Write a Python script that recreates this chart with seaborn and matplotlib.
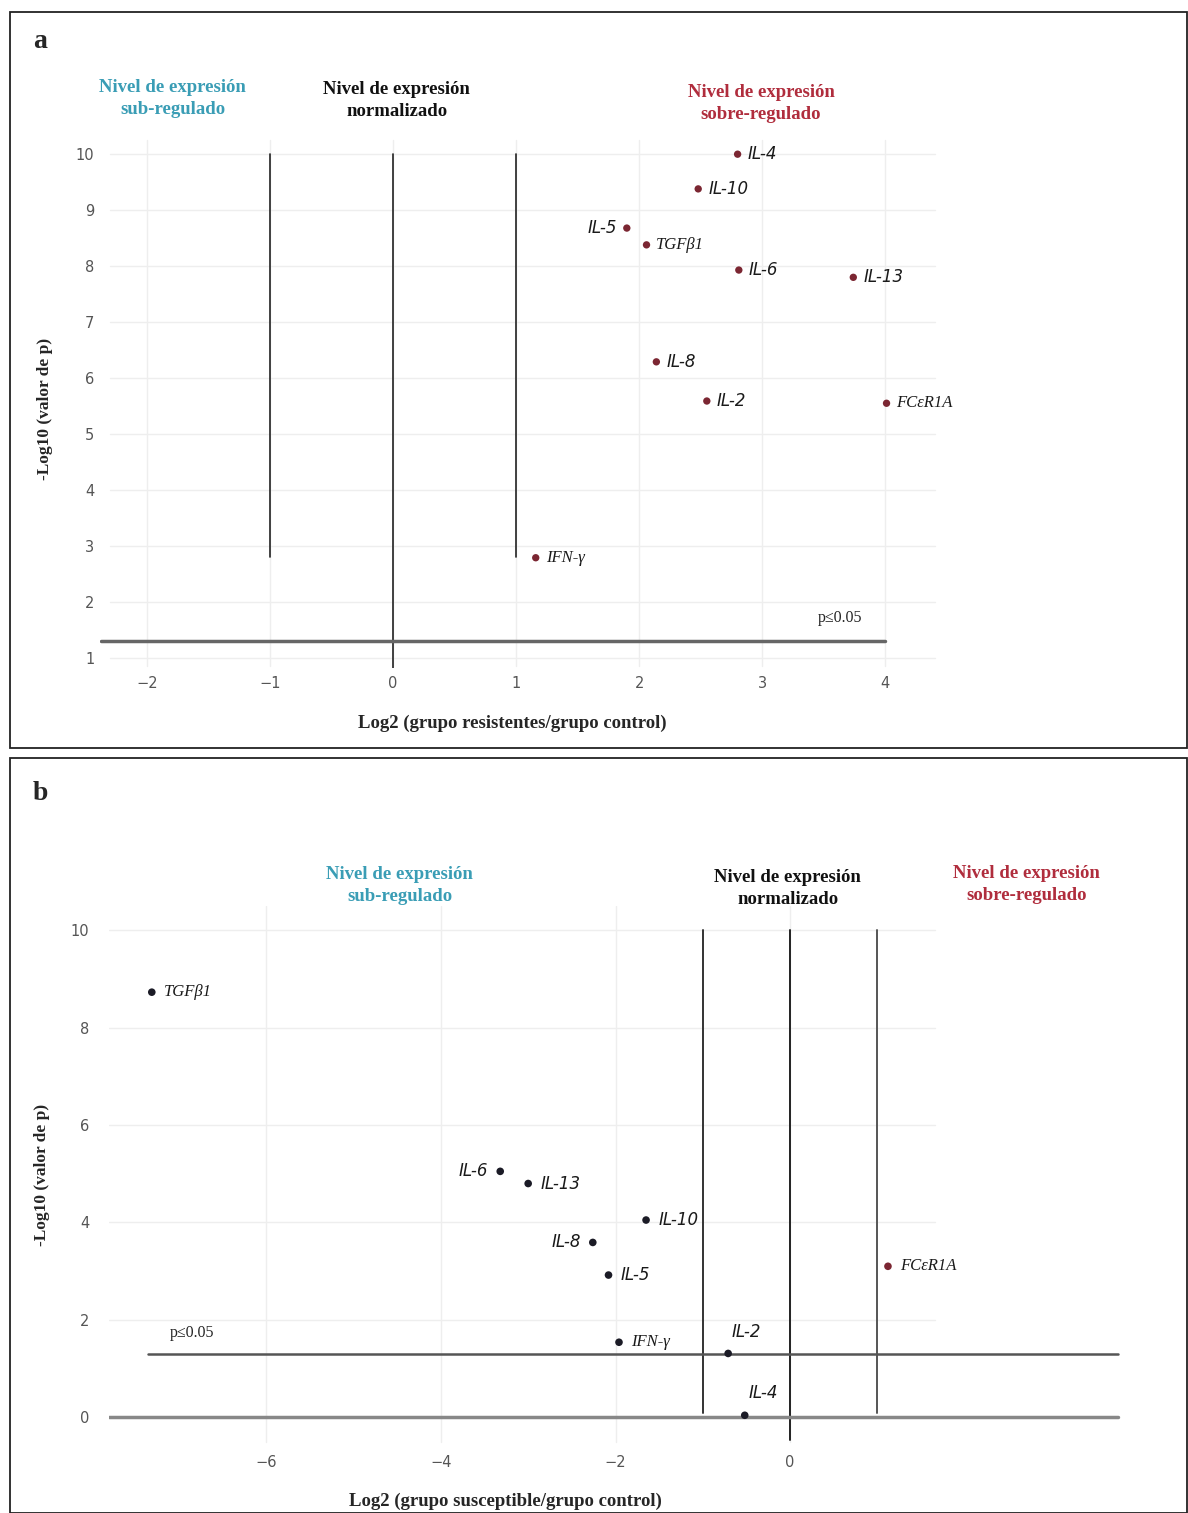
import matplotlib
matplotlib.use("Agg")
import matplotlib.pyplot as plt
import matplotlib.patches as mpatches
import seaborn as sns
import pandas as pd

# panel a: resistentes vs control
genes_a = ["IL-4", "IL-10", "IL-5", "TGFβ1", "IL-6", "IL-13", "IL-8", "IL-2", "FCεR1A", "IFN-γ"]
log2_a = [2.80, 2.48, 1.90, 2.06, 2.81, 3.74, 2.14, 2.55, 4.01, 1.16]
logp_a = [10.0, 9.38, 8.68, 8.38, 7.93, 7.80, 6.29, 5.59, 5.55, 2.79]
side_a = ["r", "r", "l", "r", "r", "r", "r", "r", "r", "r"]
group_a = ["up"] * 10

# panel b: susceptible vs control
genes_b = ["TGFβ1", "IL-6", "IL-13", "IL-10", "IL-8", "IL-5", "IFN-γ", "IL-2", "IL-4", "FCεR1A"]
log2_b = [-7.31, -3.32, -3.00, -1.65, -2.26, -2.08, -1.96, -0.71, -0.52, 1.12]
logp_b = [8.73, 5.05, 4.80, 4.05, 3.59, 2.92, 1.54, 1.31, 0.04, 3.10]
side_b = ["r", "l", "r", "r", "l", "r", "r", "t", "t", "r"]
group_b = ["down"] * 9 + ["up"]

serif_genes = {"TGFβ1", "FCεR1A", "IFN-γ"}
pal = {"up": "#7b2632", "down": "#1b1b26"}
TEAL = "#3a9db5"
RED = "#b02d3d"
HEAD = "Nivel de expresión\n"

sns.set_theme(style="white")
plt.rcParams["font.family"] = ["DejaVu Sans"]

fig = plt.figure(figsize=(11.88, 15.13), dpi=100)
W, H = 1188, 1513


def px_axes(l, t, r, b):
    return fig.add_axes([l / W, 1 - b / H, (r - l) / W, (b - t) / H])


def frame(l, t, r, b):
    fig.patches.append(mpatches.Rectangle((l / W, 1 - b / H), (r - l) / W, (b - t) / H,
                                          transform=fig.transFigure, fill=False,
                                          edgecolor="#222222", lw=1.3))


def label_points(ax, xs, ys, names, sides, dx):
    for x, y, g, s in zip(xs, ys, names, sides):
        kw = dict(fontsize=12, style="italic", va="center", color="#1a1a1a")
        if g in serif_genes:
            kw["family"] = "Liberation Serif"
            kw["fontsize"] = 12
        if s == "r":
            ax.text(x + dx, y, g, ha="left", **kw)
        elif s == "l":
            ax.text(x - dx, y, g, ha="right", **kw)
        else:
            ax.text(x + dx * 0.3, y + 0.45, g, ha="left", **kw)


def style_axis(ax):
    sns.despine(ax=ax, left=True, bottom=True)
    ax.tick_params(axis="both", length=0, labelsize=10.5, labelcolor="#555555")
    ax.grid(False)


lab = dict(family="Liberation Serif", fontweight="bold", fontsize=13.5)
hk = dict(family="Liberation Serif", fontweight="bold", fontsize=13.5, ha="center",
          va="center", linespacing=1.4, clip_on=False)

# ---------------- panel a ----------------
frame(10, 12, 1187, 748)
fig.text(40 / W, 1 - 42 / H, "a", family="Liberation Serif", fontweight="bold", fontsize=20,
         ha="center", va="center")
ax = px_axes(100, 129, 937, 668)
ax.set_xlim(-2.38, 4.42)
ax.set_ylim(0.82, 10.45)
for yv in range(1, 11):
    ax.plot([-2.3, 4.4], [yv, yv], color="#eeeeee", lw=1, zorder=0)
for xv in range(-2, 5):
    ax.plot([xv, xv], [0.85, 10.25], color="#eeeeee", lw=1, zorder=0)
ax.plot([-1, -1], [2.8, 10], color="#222222", lw=1.2)
ax.plot([1, 1], [2.8, 10], color="#222222", lw=1.2)
ax.plot([0, 0], [0.82, 10], color="#222222", lw=1.2)
ax.plot([-2.37, 4.0], [1.301, 1.301], color="#666666", lw=2.5)
ax.text(3.63, 1.72, "p≤0.05", family="Liberation Serif", fontsize=11.5, ha="center", va="center")

df_a = pd.DataFrame({"x": log2_a, "y": logp_a, "g": group_a})
sns.scatterplot(data=df_a, x="x", y="y", hue="g", palette=pal, s=28, edgecolor="none",
                legend=False, ax=ax, zorder=3)
label_points(ax, log2_a, logp_a, genes_a, side_a, 0.08)

style_axis(ax)
ax.set_xticks(range(-2, 5))
ax.set_xticklabels([str(v).replace("-", "−") for v in range(-2, 5)])
ax.set_yticks(range(1, 11))
ax.tick_params(axis="x", pad=6)
ax.tick_params(axis="y", pad=4)
ax.set_xlabel("Log2 (grupo resistentes/grupo control)", **lab)
ax.set_ylabel("-Log10 (valor de p)", family="Liberation Serif", fontweight="bold", fontsize=12.5)
ax.xaxis.set_label_coords(0.493, -0.086)
ax.yaxis.set_label_coords(-0.056, 0.48)
ax.text(-1.79, 11.0, HEAD + "sub-regulado", color=TEAL, **hk)
ax.text(0.03, 10.96, HEAD + "normalizado", color="#111111", **hk)
ax.text(2.99, 10.91, HEAD + "sobre-regulado", color=RED, **hk)

# ---------------- panel b ----------------
frame(10, 758, 1187, 1513)
fig.text(40 / W, 1 - 793 / H, "b", family="Liberation Serif", fontweight="bold", fontsize=20,
         ha="center", va="center")
bx = px_axes(109, 906, 1122, 1444)
bx.set_xlim(-7.8, 3.8)
bx.set_ylim(-0.55, 10.5)
for yv in range(2, 11, 2):
    bx.plot([-7.8, 1.66], [yv, yv], color="#eeeeee", lw=1, zorder=0)
for xv in range(-6, 1, 2):
    bx.plot([xv, xv], [-0.5, 10.5], color="#eeeeee", lw=1, zorder=0)
bx.plot([-1, -1], [0.08, 10], color="#333333", lw=1.4)
bx.plot([1, 1], [0.08, 10], color="#555555", lw=1.4)
bx.plot([0, 0], [-0.47, 10], color="#222222", lw=1.4)
bx.plot([-7.35, 3.75], [1.301, 1.301], color="#555555", lw=1.8)
bx.plot([-7.8, 3.75], [0, 0], color="#888888", lw=2.5)
bx.text(-6.85, 1.72, "p≤0.05", family="Liberation Serif", fontsize=11.5, ha="center", va="center")

df_b = pd.DataFrame({"x": log2_b, "y": logp_b, "g": group_b})
sns.scatterplot(data=df_b, x="x", y="y", hue="g", palette=pal, s=30, edgecolor="none",
                legend=False, ax=bx, zorder=3)
label_points(bx, log2_b, logp_b, genes_b, side_b, 0.14)

style_axis(bx)
bx.set_xticks(range(-6, 1, 2))
bx.set_xticklabels([str(v).replace("-", "−") for v in range(-6, 1, 2)])
bx.set_yticks(range(0, 11, 2))
bx.tick_params(axis="x", pad=8)
bx.tick_params(axis="y", pad=14)
bx.set_xlabel("Log2 (grupo susceptible/grupo control)", **lab)
bx.set_ylabel("-Log10 (valor de p)", family="Liberation Serif", fontweight="bold", fontsize=12.5)
bx.xaxis.set_label_coords(0.391, -0.09)
bx.yaxis.set_label_coords(-0.058, 0.5)
bx.text(-4.47, 10.92, HEAD + "sub-regulado", color=TEAL, **hk)
bx.text(-0.03, 10.86, HEAD + "normalizado", color="#111111", **hk)
bx.text(2.71, 10.94, HEAD + "sobre-regulado", color=RED, **hk)

fig.savefig("out.png", dpi=100, facecolor="white")
